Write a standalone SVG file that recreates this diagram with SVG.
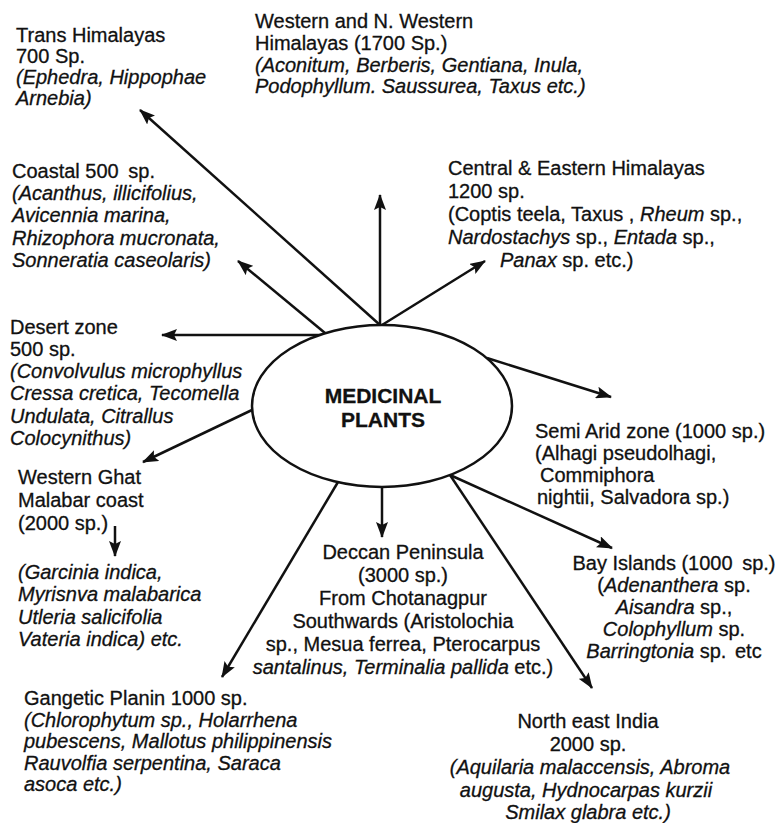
<svg xmlns="http://www.w3.org/2000/svg" width="783" height="823" viewBox="0 0 783 823">
  <style>
    text { font-family: "Liberation Sans", Arial, sans-serif; font-size: 20px; fill: #111; stroke: #111; stroke-width: 0.3; }
    .i { font-style: italic; }
    .c { text-anchor: middle; }
    .hub { font-weight: bold; font-size: 21px; text-anchor: middle; }
    .edge { stroke: #111; stroke-width: 2.5; fill: none; marker-end: url(#arrow); }
  </style>
  <defs>
    <marker id="arrow" markerUnits="userSpaceOnUse" markerWidth="16" markerHeight="12" refX="15" refY="6" orient="auto">
      <path d="M0,0 L16,6 L0,12 L3,6 z" fill="#111"/>
    </marker>
  </defs>
  <rect width="783" height="823" fill="#fff"/>

  <!-- connectors radiating from the hub -->
  <g id="connectors">
    <path class="edge" d="M380,325 L140,110"/>
    <path class="edge" d="M380,325 L380,195"/>
    <path class="edge" d="M382,325 L485,261"/>
    <path class="edge" d="M325,333 L238,261"/>
    <path class="edge" d="M327,335 L162,335"/>
    <path class="edge" d="M487,358 L611,397"/>
    <path class="edge" d="M252,410 L143,462"/>
    <path class="edge" d="M115,526 L115,556"/>
    <path class="edge" d="M338,482 L222,677"/>
    <path class="edge" d="M382,487 L382,537"/>
    <path class="edge" d="M450,475 L612,548"/>
    <path class="edge" d="M450,475 L592,688"/>
  </g>

  <g id="hub">
    <ellipse cx="382" cy="406" rx="130" ry="81" fill="#fff" stroke="#111" stroke-width="2.5"/>
    <text class="hub" x="383" y="403">MEDICINAL</text>
    <text class="hub" x="383" y="427">PLANTS</text>
  </g>

  <g id="trans-himalayas">
    <text x="16" y="42">Trans Himalayas</text>
    <text x="16" y="63">700 Sp.</text>
    <text x="16" y="84" class="i">(Ephedra, Hippophae</text>
    <text x="16" y="105" class="i">Arnebia)</text>
  </g>

  <g id="western-himalayas">
    <text x="255" y="28">Western and N. Western</text>
    <text x="255" y="50">Himalayas (1700 Sp.)</text>
    <text x="255" y="72" class="i">(Aconitum, Berberis, Gentiana, Inula,</text>
    <text x="255" y="93" class="i">Podophyllum. Saussurea, Taxus etc.)</text>
  </g>

  <g id="central-eastern-himalayas">
    <text x="448" y="175">Central &amp; Eastern Himalayas</text>
    <text x="448" y="198">1200 sp.</text>
    <text x="448" y="221">(Coptis teela, Taxus , <tspan class="i">Rheum</tspan> sp.,</text>
    <text x="448" y="244"><tspan class="i">Nardostachys</tspan> sp., <tspan class="i">Entada</tspan> sp.,</text>
    <text x="500" y="267"><tspan class="i">Panax</tspan> sp. etc.)</text>
  </g>

  <g id="coastal">
    <text x="12" y="178">Coastal 500 <tspan dx="4">sp.</tspan></text>
    <text x="12" y="200" class="i">(Acanthus, illicifolius,</text>
    <text x="12" y="222" class="i">Avicennia marina,</text>
    <text x="12" y="245" class="i">Rhizophora mucronata,</text>
    <text x="12" y="267" class="i">Sonneratia caseolaris)</text>
  </g>

  <g id="desert-zone">
    <text x="10" y="334">Desert zone</text>
    <text x="10" y="356">500 sp.</text>
    <text x="10" y="378" class="i">(Convolvulus microphyllus</text>
    <text x="10" y="400" class="i">Cressa cretica, Tecomella</text>
    <text x="10" y="423" class="i">Undulata, Citrallus</text>
    <text x="10" y="445" class="i">Colocynithus)</text>
  </g>

  <g id="semi-arid-zone">
    <text x="535" y="438">Semi Arid zone (1000 sp.)</text>
    <text x="535" y="460">(Alhagi pseudolhagi,</text>
    <text x="540" y="482">Commiphora</text>
    <text x="537" y="504">nightii, Salvadora sp.)</text>
  </g>

  <g id="western-ghat">
    <text x="18" y="484">Western Ghat</text>
    <text x="18" y="507">Malabar coast</text>
    <text x="18" y="530">(2000 sp.)</text>
    <text x="18" y="579" class="i">(Garcinia indica,</text>
    <text x="18" y="601" class="i">Myrisnva malabarica</text>
    <text x="18" y="624" class="i">Utleria salicifolia</text>
    <text x="18" y="646" class="i">Vateria indica) etc.</text>
  </g>

  <g id="deccan-peninsula">
    <text class="c" x="403" y="559">Deccan Peninsula</text>
    <text class="c" x="403" y="582">(3000 sp.)</text>
    <text class="c" x="403" y="605">From Chotanagpur</text>
    <text class="c" x="403" y="628">Southwards (Aristolochia</text>
    <text class="c" x="403" y="651">sp., Mesua ferrea, Pterocarpus</text>
    <text class="c" x="403" y="674"><tspan class="i">santalinus, Terminalia pallida</tspan> etc.)</text>
  </g>

  <g id="bay-islands">
    <text class="c" x="674" y="570">Bay Islands (1000 <tspan dx="4">sp.)</tspan></text>
    <text class="c" x="674" y="592">(<tspan class="i">Adenanthera</tspan> sp.</text>
    <text class="c" x="674" y="614"><tspan class="i">Aisandra</tspan> sp.,</text>
    <text class="c" x="674" y="636"><tspan class="i">Colophyllum</tspan> sp.</text>
    <text class="c" x="674" y="658"><tspan class="i">Barringtonia</tspan> sp. <tspan dx="3">etc</tspan></text>
  </g>

  <g id="gangetic-plain">
    <text x="24" y="705">Gangetic Planin 1000 sp.</text>
    <text x="24" y="727" class="i">(Chlorophytum sp., Holarrhena</text>
    <text x="24" y="748" class="i">pubescens, Mallotus philippinensis</text>
    <text x="24" y="770" class="i">Rauvolfia serpentina, Saraca</text>
    <text x="24" y="791" class="i">asoca etc.)</text>
  </g>

  <g id="north-east-india">
    <text class="c" x="588" y="728">North east India</text>
    <text class="c" x="588" y="751">2000 sp.</text>
    <text class="c i" x="590" y="774">(Aquilaria malaccensis, Abroma</text>
    <text class="c i" x="586" y="797">augusta, Hydnocarpas kurzii</text>
    <text class="c i" x="588" y="819">Smilax glabra etc.)</text>
  </g>
</svg>
